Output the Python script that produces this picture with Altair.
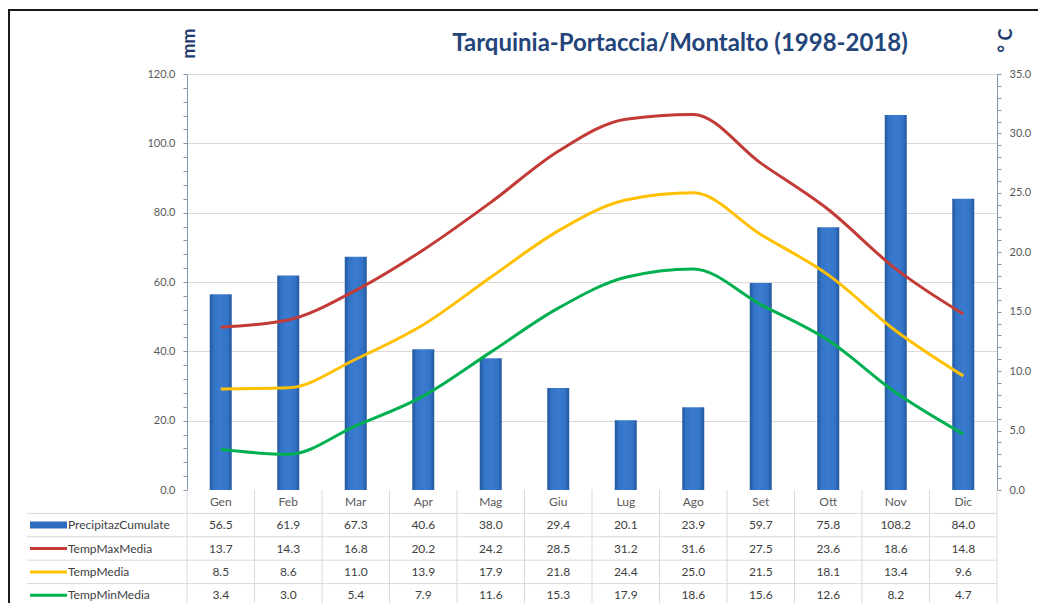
import altair as alt
import pandas as pd

months = ["Gen", "Feb", "Mar", "Apr", "Mag", "Giu", "Lug", "Ago", "Set", "Ott", "Nov", "Dic"]
precip = [56.5, 61.9, 67.3, 40.6, 38.0, 29.4, 20.1, 23.9, 59.7, 75.8, 108.2, 84.0]
tmax = [13.7, 14.3, 16.8, 20.2, 24.2, 28.5, 31.2, 31.6, 27.5, 23.6, 18.6, 14.8]
tmed = [8.5, 8.6, 11.0, 13.9, 17.9, 21.8, 24.4, 25.0, 21.5, 18.1, 13.4, 9.6]
tmin = [3.4, 3.0, 5.4, 7.9, 11.6, 15.3, 17.9, 18.6, 15.6, 12.6, 8.2, 4.7]

series_names = ["PrecipitazCumulate", "TempMaxMedia", "TempMedia", "TempMinMedia"]
series_colors = ["#2e6cc0", "#C23B36", "#FFC000", "#00B050"]
title_text = ["Tarquinia-Portaccia/Montalto (1998-2018)"]

W, H = 810, 416
TABLE_TOP, TABLE_BOTTOM = 416, 533
FONT = "Lato"

# ---------- data frames ----------
df_bar = pd.DataFrame({"month": months, "value": precip})
temp_rows = []
for name, vals in zip(series_names[1:], [tmax, tmed, tmin]):
    for m, v in zip(months, vals):
        temp_rows.append({"month": m, "series": name, "value": v})
df_temp = pd.DataFrame(temp_rows)

table_rows = []
for name, vals in zip(series_names, [precip, tmax, tmed, tmin]):
    for m, v in zip(months, vals):
        table_rows.append({"month": m, "row": name, "label": f"{v:.1f}"})
df_table = pd.DataFrame(table_rows)
df_head = pd.DataFrame({"month": months, "row": ["_mesi"] * len(months), "label": months})
row_domain = ["_mesi"] + series_names
df_rowlines = pd.DataFrame({"row": row_domain})
df_names = pd.DataFrame({"row": series_names})
df_months = pd.DataFrame({"month": months})
df_title = pd.DataFrame({"t": title_text})

# ---------- shared encodings ----------
x_scale = alt.Scale(domain=months, paddingInner=0, paddingOuter=0)
x_enc = alt.X("month:N", scale=x_scale,
              axis=alt.Axis(labels=False, ticks=False, title=None, grid=False,
                            domainColor="#d9d9d9", domainWidth=1))
row_scale = alt.Scale(type="band", domain=row_domain, range=[TABLE_TOP, TABLE_BOTTOM],
                      paddingInner=0, paddingOuter=0)
color_scale = alt.Scale(domain=series_names, range=series_colors)

axis_col = "#8497b0"
left_axis = alt.Axis(
    values=list(range(0, 121, 4)),
    labelExpr="datum.value % 20 === 0 ? format(datum.value, '.1f') : ''",
    labelOverlap=False, labelFont=FONT, labelFontSize=11, labelColor="#595959",
    labelPadding=8, tickSize=4, tickColor=axis_col, domainColor=axis_col,
    grid=True, gridColor="#d9d9d9",
    gridOpacity={"condition": {"test": "datum.value % 20 === 0 && datum.value > 0", "value": 1}, "value": 0},
    title="mm", titleFont=FONT, titleFontSize=18, titleFontWeight="bold", titleColor="#1F3C6E",
    titleAngle=270, titleX=2, titleY=-31, titleAlign="center", titleBaseline="middle",
)
right_axis = alt.Axis(
    orient="right",
    values=list(range(0, 36)),
    labelExpr="datum.value % 5 === 0 ? format(datum.value, '.1f') : ''",
    labelOverlap=False, labelFont=FONT, labelFontSize=11, labelColor="#595959",
    labelPadding=8, tickSize=4, tickColor=axis_col, domainColor=axis_col, grid=False,
    title="° C", titleFont=FONT, titleFontSize=18, titleFontWeight="bold", titleColor="#1F3C6E",
    titleAngle=270, titleX=9, titleY=-34, titleAlign="center", titleBaseline="middle",
)

bar_fill = alt.Gradient(
    gradient="linear", x1=0, x2=1, y1=0, y2=0,
    stops=[alt.GradientStop(color="#24589c", offset=0),
           alt.GradientStop(color="#3474c8", offset=0.2),
           alt.GradientStop(color="#3a7bd0", offset=0.5),
           alt.GradientStop(color="#3474c8", offset=0.8),
           alt.GradientStop(color="#24589c", offset=1)],
)

bars = alt.Chart(df_bar).mark_bar(size=22, fill=bar_fill).encode(
    x=x_enc,
    y=alt.Y("value:Q", scale=alt.Scale(domain=[0, 120], nice=False), axis=left_axis),
)

lines = alt.Chart(df_temp).mark_line(strokeWidth=3, interpolate="monotone").encode(
    x=x_enc,
    y=alt.Y("value:Q", scale=alt.Scale(domain=[0, 35], nice=False), axis=right_axis),
    color=alt.Color("series:N", scale=color_scale, legend=None),
    detail="series:N",
)

# ---------- data table ----------
vlines = alt.Chart(df_months).mark_rule(color="#d9d9d9", strokeWidth=1).encode(
    x=alt.X("month:N", scale=x_scale, bandPosition=0, axis=None),
    y=alt.value(TABLE_TOP), y2=alt.value(TABLE_BOTTOM),
)
vline_end = alt.Chart(df_months.head(1)).mark_rule(color="#d9d9d9", strokeWidth=1).encode(
    x=alt.value(W), y=alt.value(TABLE_TOP), y2=alt.value(TABLE_BOTTOM),
)
hlines = alt.Chart(df_rowlines).mark_rule(color="#d9d9d9", strokeWidth=1).encode(
    y=alt.Y("row:N", scale=row_scale, bandPosition=1, axis=None),
    x=alt.value(-160), x2=alt.value(W),
)
head_text = alt.Chart(df_head).mark_text(font=FONT, fontSize=12, color="#595959",
                                         baseline="middle").encode(
    x=alt.X("month:N", scale=x_scale, bandPosition=0.5, axis=None),
    y=alt.Y("row:N", scale=row_scale, bandPosition=0.5, axis=None),
    text="label:N",
)
val_text = alt.Chart(df_table).mark_text(font=FONT, fontSize=12, color="#404040",
                                         baseline="middle").encode(
    x=alt.X("month:N", scale=x_scale, bandPosition=0.5, axis=None),
    y=alt.Y("row:N", scale=row_scale, bandPosition=0.5, axis=None),
    text="label:N",
)
name_text = alt.Chart(df_names).mark_text(font=FONT, fontSize=12, color="#404040",
                                          align="left", baseline="middle").encode(
    x=alt.value(-119),
    y=alt.Y("row:N", scale=row_scale, bandPosition=0.5, axis=None),
    text="row:N",
)
swatch_bar = alt.Chart(df_names.head(1)).mark_rule(strokeWidth=7).encode(
    x=alt.value(-157), x2=alt.value(-120),
    y=alt.Y("row:N", scale=row_scale, bandPosition=0.5, axis=None),
    color=alt.Color("row:N", scale=color_scale, legend=None),
)
swatch_lines = alt.Chart(df_names.iloc[1:]).mark_rule(strokeWidth=3).encode(
    x=alt.value(-157), x2=alt.value(-120),
    y=alt.Y("row:N", scale=row_scale, bandPosition=0.5, axis=None),
    color=alt.Color("row:N", scale=color_scale, legend=None),
)

# ---------- title & frame decoration ----------
title = alt.Chart(df_title).mark_text(font=FONT, fontSize=24, fontWeight="bold",
                                      color="#24457a", align="center",
                                      baseline="alphabetic").encode(
    x=alt.value(493), y=alt.value(-23), text="t:N",
)
frame_top = alt.Chart(df_months.head(1)).mark_rule(color="#1a1a1a", strokeWidth=2).encode(
    x=alt.value(-179), x2=alt.value(851), y=alt.value(-64),
)
frame_left = alt.Chart(df_months.head(1)).mark_rule(color="#1a1a1a", strokeWidth=2).encode(
    x=alt.value(-178), y=alt.value(-64), y2=alt.value(560),
)

chart = alt.layer(
    vlines, vline_end, hlines, bars, lines, head_text, val_text, name_text,
    swatch_bar, swatch_lines, title, frame_top, frame_left,
).resolve_scale(y="independent").properties(
    width=W, height=H,
    padding={"left": 179, "top": 66, "right": 41, "bottom": 113},
    autosize=alt.AutoSizeParams(type="none"),
).configure_view(stroke=None)

chart.save("out.html", embed_options={"renderer": "svg", "actions": False})
